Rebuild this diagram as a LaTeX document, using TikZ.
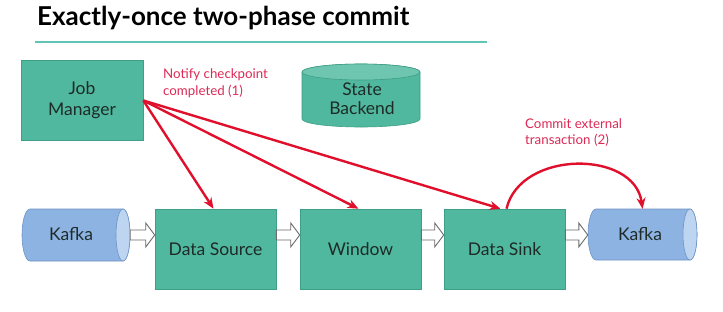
\documentclass[tikz,border=0pt]{standalone}
\usepackage{fontspec}
\setmainfont{Lato}
\usetikzlibrary{arrows.meta,calc}
\definecolor{boxfill}{HTML}{50B89E}
\definecolor{boxline}{HTML}{3E9E86}
\definecolor{sbtop}{HTML}{6FC6B0}
\definecolor{kfill}{HTML}{8DB3E2}
\definecolor{kline}{HTML}{6E93C4}
\definecolor{kcap}{HTML}{BDD5F0}
\definecolor{redarr}{HTML}{E0102C}
\definecolor{redtxt}{HTML}{DC2A55}
\definecolor{tealline}{HTML}{62C4B4}
\definecolor{txt}{HTML}{1E2B28}
\begin{document}
\begin{tikzpicture}[x=1pt,y=-1pt,
  box/.style={draw=boxline, fill=boxfill, line width=0.6pt, minimum width=121pt, minimum height=80pt,
    align=center, text=txt, font=\fontsize{17.5}{21}\selectfont, inner sep=0pt},
  redarrow/.style={draw=redarr, line width=2.4pt, -{Stealth[length=11pt,width=9pt]}},
  lbl/.style={text=redtxt, align=left, inner sep=0pt, font=\fontsize{13.3}{17}\selectfont},
  hollow/.style={draw=black!58, fill=white, line width=0.9pt, line join=miter,
    to path={let \p1=(\tikztostart), \p2=(\tikztotarget) in
      (\x1,\y1+5pt) -- (\x2-9pt,\y1+5pt) -- (\x2-9pt,\y1+12pt) -- (\x2,\y1)
      -- (\x2-9pt,\y1-12pt) -- (\x2-9pt,\y1-5pt) -- (\x1,\y1-5pt) -- cycle}},
]
\useasboundingbox[fill=white] (0,0) rectangle (723,311);

% title
\node[anchor=west, inner sep=0pt, font=\bfseries\fontsize{26}{30}\selectfont] (title) at (37,18) {Exactly-once two-phase commit};
\coordinate (tl1) at (35,42);
\coordinate (tl2) at (487,42);
\draw[tealline, line width=2.6pt] (tl1) -- (tl2);

% boxes
\node[box, minimum width=122pt] (jm) at (82,100.5) {Job\\Manager};
\node[box] (ds) at (215.5,249) {Data Source};
\node[box] (win) at (360.5,249) {Window};
\node[box] (sink) at (504.5,249) {Data Sink};

% state backend cylinder
\node[minimum width=118pt, minimum height=63pt, inner sep=0pt] (sb) at (361,95.5) {};
\draw[boxline, fill=boxfill, line width=0.6pt] (302,72) -- (302,119)
  arc[start angle=180, end angle=360, x radius=59pt, y radius=8pt] -- (420,72)
  arc[start angle=0, end angle=180, x radius=59pt, y radius=8pt] -- cycle;
\draw[boxline, fill=sbtop, line width=0.6pt] (361,72) ellipse[x radius=59pt, y radius=8pt];
\node[align=center, text=txt, font=\fontsize{17.5}{19}\selectfont, inner sep=0pt] (sbt) at (362,99) {State\\Backend};

% kafka cylinders
\node[minimum width=108pt, minimum height=52pt, inner sep=0pt] (k1) at (76,235) {};
\draw[kline, fill=kfill, line width=0.6pt] (30,209) -- (123,209)
  arc[start angle=90, end angle=-90, x radius=7pt, y radius=26pt] -- (30,261)
  arc[start angle=270, end angle=90, x radius=8pt, y radius=26pt] -- cycle;
\draw[kline, fill=kcap, line width=0.6pt] (123,235) ellipse[x radius=7pt, y radius=26pt];
\node[text=txt, font=\fontsize{17.5}{19}\selectfont, inner sep=0pt] (k1t) at (71,234) {Kafka};

\node[minimum width=109pt, minimum height=51pt, inner sep=0pt] (k2) at (642.5,234.5) {};
\draw[kline, fill=kfill, line width=0.6pt] (596,209) -- (690,209)
  arc[start angle=90, end angle=-90, x radius=7pt, y radius=25.5pt] -- (596,260)
  arc[start angle=270, end angle=90, x radius=8pt, y radius=25.5pt] -- cycle;
\draw[kline, fill=kcap, line width=0.6pt] (690,234.5) ellipse[x radius=7pt, y radius=25.5pt];
\node[text=txt, font=\fontsize{17.5}{19}\selectfont, inner sep=0pt] (k2t) at (640,234) {Kafka};

% hollow arrows
\draw[hollow] (k1.east) to (ds.west |- k1.east);
\draw[hollow] (ds.east |- k1.east) to (win.west |- k1.east);
\draw[hollow] (win.east |- k1.east) to (sink.west |- k1.east);
\draw[hollow] (sink.east |- k1.east) to (k2.west);

% red arrows
\draw[redarrow] (jm.east) -- ([xshift=-2pt]ds.north);
\draw[redarrow] (jm.east) -- ([xshift=-2pt]win.north);
\draw[redarrow] (jm.east) -- ([xshift=-4pt]sink.north);
\draw[redarrow] ([xshift=2pt]sink.north) .. controls +(14,-59) and +(-8,-59) .. (k2.north);

% labels
\node[lbl, anchor=north west] (n1) at (163,69) {Notify checkpoint\\completed (1)};
\node[lbl, anchor=north west] (n2) at (525,118) {Commit external\\transaction (2)};
\end{tikzpicture}
\end{document}
